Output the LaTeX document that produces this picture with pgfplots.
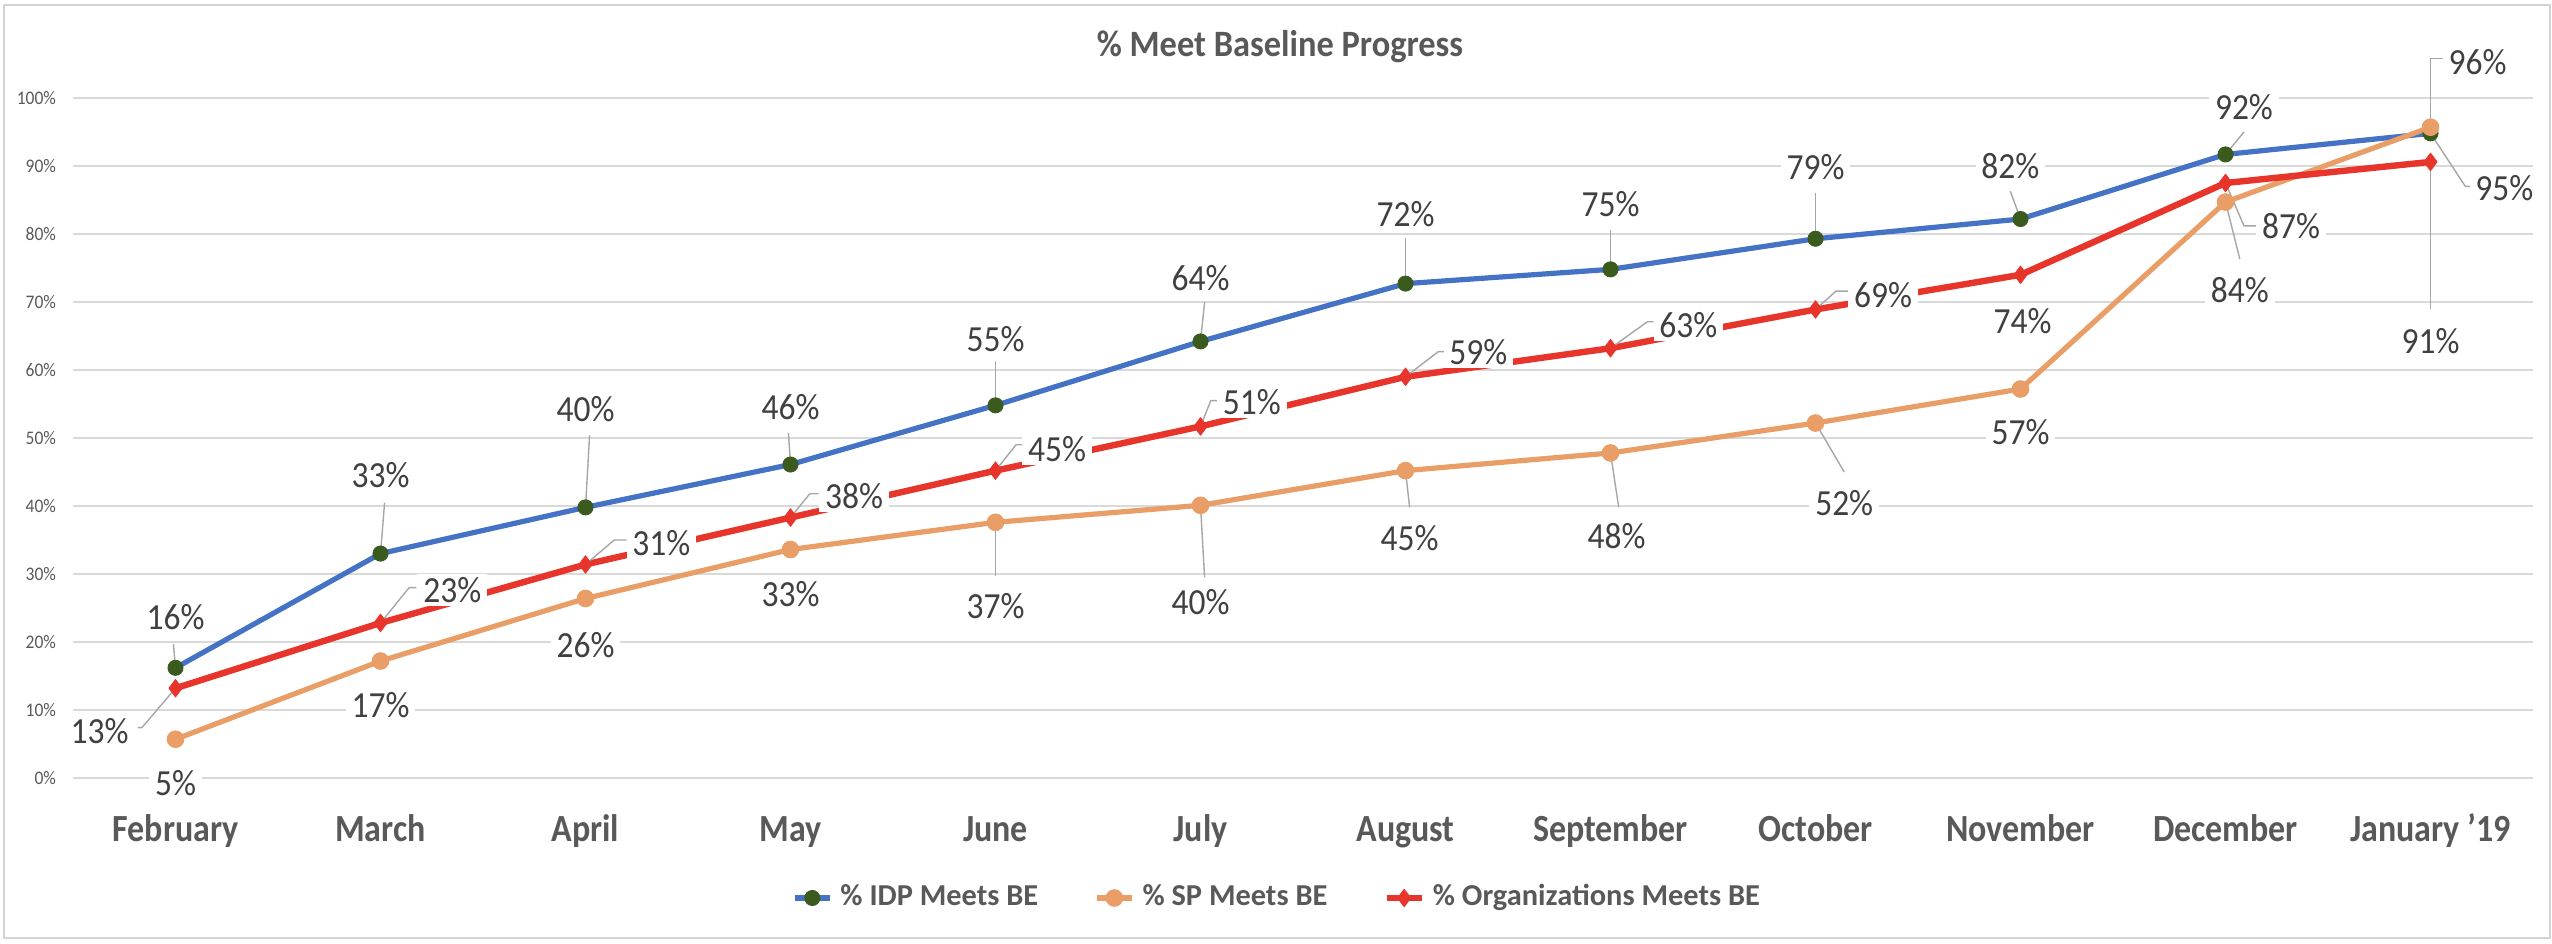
\documentclass[border=0pt]{standalone}
\usepackage{pgfplots}
\pgfplotsset{compat=1.18}
\usepackage{fontspec}
\setmainfont{Carlito}
\definecolor{idpblue}{HTML}{4472C4}
\definecolor{idpgreen}{HTML}{3A5A1E}
\definecolor{sporange}{HTML}{E89E66}
\definecolor{orgred}{HTML}{E8352B}
\definecolor{gridgray}{HTML}{D9D9D9}
\definecolor{txt}{HTML}{595959}
\definecolor{lbltxt}{HTML}{404040}
\definecolor{leader}{HTML}{A6A6A6}
\definecolor{framegray}{HTML}{D3D3D3}

\begin{document}
\begin{tikzpicture}[
  lbl/.style={font=\fontsize{9.2bp}{10bp}\selectfont, xscale=0.91, text=lbltxt, fill=white, inner xsep=1.6bp, inner ysep=0.8bp},
  ldr/.style={draw=leader, line width=0.35bp}]
\useasboundingbox (0,0) rectangle (638bp,236bp);
\draw[framegray, line width=0.5bp] (1bp,1.5bp) rectangle (637.5bp,234.75bp);
\node[font=\bfseries\fontsize{9.3bp}{10bp}\selectfont, xscale=0.925, text=txt] at (320bp,224.25bp) {\% Meet Baseline Progress};
\begin{axis}[
  at={(18.25bp,41.5bp)}, anchor=south west,
  scale only axis, width=615bp, height=170bp,
  xmin=-0.5, xmax=11.5, ymin=0, ymax=100,
  clip=false,
  axis line style={draw=none},
  major tick length=0pt,
  xtick={0,1,2,3,4,5,6,7,8,9,10,11},
  xticklabels={February,March,April,May,June,July,August,September,October,November,December,January '19},
  ytick={0,10,20,30,40,50,60,70,80,90,100},
  yticklabels={0\%,10\%,20\%,30\%,40\%,50\%,60\%,70\%,80\%,90\%,100\%},
  ymajorgrids, grid style={gridgray, line width=0.6bp},
  xticklabel style={font=\bfseries\fontsize{9.6bp}{10bp}\selectfont, xscale=0.885, text=txt, anchor=base, inner sep=0pt, yshift=-15.9bp},
  yticklabel style={font=\fontsize{4.8bp}{5bp}\selectfont, xscale=0.91, text=txt, anchor=east, inner sep=0pt, xshift=-4.5bp},
  legend columns=3,
  legend style={at={(0.49065,-0.17647)}, anchor=center, draw=none, fill=none,
    font=\bfseries\fontsize{7.6bp}{8bp}\selectfont, text=txt,
    /tikz/every even column/.append style={column sep=12bp},
    /tikz/every odd column/.append style={column sep=0bp}},
  legend image code/.code={\draw[mark repeat=2,mark phase=2] plot coordinates {(0bp,0bp) (4.4bp,0bp) (8.8bp,0bp)};},
]
\addplot[idpblue, line width=1.3bp, line join=round, mark=*, mark size=1.9bp,
  mark options={fill=idpgreen, draw=idpgreen, line width=0.2bp}]
  coordinates {(0,16.2) (1,33.0) (2,39.8) (3,46.1) (4,54.8) (5,64.2) (6,72.7) (7,74.8) (8,79.3) (9,82.2) (10,91.7) (11,94.8)};
\addlegendentry{\% IDP Meets BE}
\addplot[sporange, line width=1.3bp, line join=round, mark=*, mark size=2.1bp,
  mark options={fill=sporange, draw=sporange, line width=0.2bp}]
  coordinates {(0,5.7) (1,17.2) (2,26.4) (3,33.6) (4,37.6) (5,40.1) (6,45.2) (7,47.8) (8,52.2) (9,57.2) (10,84.7) (11,95.7)};
\addlegendentry{\% SP Meets BE}
\addplot[orgred, line width=1.6bp, line join=round, mark=diamond*, mark size=2.2bp,
  mark options={fill=orgred, draw=orgred, line width=0.2bp}]
  coordinates {(0,13.2) (1,22.8) (2,31.4) (3,38.3) (4,45.2) (5,51.7) (6,59.0) (7,63.2) (8,68.9) (9,74.0) (10,87.5) (11,90.6)};
\addlegendentry{\% Organizations Meets BE}

% leader lines
\draw[ldr] (axis cs:0,16.2) -- (axis cs:-0.01,19.7);
\draw[ldr] (axis cs:1,33.0) -- (axis cs:1.02,40.5);
\draw[ldr] (axis cs:2,39.8) -- (axis cs:2.02,50.4);
\draw[ldr] (axis cs:3,46.1) -- (axis cs:2.99,50.7);
\draw[ldr] (axis cs:4,54.8) -- (axis cs:4,61.3);
\draw[ldr] (axis cs:5,64.2) -- (axis cs:5.02,70);
\draw[ldr] (axis cs:6,72.7) -- (axis cs:6,79.4);
\draw[ldr] (axis cs:7,74.8) -- (axis cs:7,80.6);
\draw[ldr] (axis cs:8,79.3) -- (axis cs:8,86);
\draw[ldr] (axis cs:9,82.2) -- (axis cs:8.95,86.3);
\draw[ldr] (axis cs:10,91.7) -- (axis cs:10.09,95);
\draw[ldr] (axis cs:11,94.8) -- (axis cs:11.17,87) -- (axis cs:11.2,87);
\draw[ldr] (axis cs:4,37.6) -- (axis cs:4,29.7);
\draw[ldr] (axis cs:5,40.1) -- (axis cs:5.02,29.5);
\draw[ldr] (axis cs:6,45.2) -- (axis cs:6.02,39.8);
\draw[ldr] (axis cs:7,47.8) -- (axis cs:7.04,39.8);
\draw[ldr] (axis cs:8,52.2) -- (axis cs:8.14,45);
\draw[ldr] (axis cs:10,84.7) -- (axis cs:10.07,76.3);
\draw[ldr] (axis cs:11,95.7) -- (axis cs:11,105.8) -- (axis cs:11.07,105.8);
\draw[ldr] (axis cs:0,13.2) -- (axis cs:-0.164,7.4) -- (axis cs:-0.185,7.4);
\draw[ldr] (axis cs:1,22.8) -- (axis cs:1.14,28) -- (axis cs:1.175,28);
\draw[ldr] (axis cs:2,31.4) -- (axis cs:2.14,35) -- (axis cs:2.2,35);
\draw[ldr] (axis cs:3,38.3) -- (axis cs:3.094,41.8) -- (axis cs:3.137,41.8);
\draw[ldr] (axis cs:4,45.2) -- (axis cs:4.1,49) -- (axis cs:4.13,49);
\draw[ldr] (axis cs:5,51.7) -- (axis cs:5.05,55.5) -- (axis cs:5.1,55.5);
\draw[ldr] (axis cs:6,59.0) -- (axis cs:6.16,62.7) -- (axis cs:6.19,62.7);
\draw[ldr] (axis cs:7,63.2) -- (axis cs:7.18,67.1) -- (axis cs:7.21,67.1);
\draw[ldr] (axis cs:8,68.9) -- (axis cs:8.1,71.6) -- (axis cs:8.16,71.6);
\draw[ldr] (axis cs:10,87.5) -- (axis cs:10.09,81.2) -- (axis cs:10.17,81.2);
\draw[ldr] (axis cs:11,90.6) -- (axis cs:11,69);

% IDP labels
\node[lbl] at (axis cs:0,23.6) {16\%};
\node[lbl] at (axis cs:1,44.5) {33\%};
\node[lbl] at (axis cs:2,54.2) {40\%};
\node[lbl] at (axis cs:3,54.6) {46\%};
\node[lbl] at (axis cs:4,64.6) {55\%};
\node[lbl] at (axis cs:5,73.5) {64\%};
\node[lbl] at (axis cs:6,82.9) {72\%};
\node[lbl] at (axis cs:7,84.4) {75\%};
\node[lbl] at (axis cs:8,89.9) {79\%};
\node[lbl] at (axis cs:8.95,90.0) {82\%};
\node[lbl] at (axis cs:10.09,98.7) {92\%};
\node[lbl] at (axis cs:11.36,86.7) {95\%};
% SP labels
\node[lbl] at (axis cs:0,-0.7) {5\%};
\node[lbl] at (axis cs:1,10.7) {17\%};
\node[lbl] at (axis cs:2,19.6) {26\%};
\node[lbl] at (axis cs:3,27.0) {33\%};
\node[lbl] at (axis cs:4,25.3) {37\%};
\node[lbl] at (axis cs:5,25.8) {40\%};
\node[lbl] at (axis cs:6.02,35.3) {45\%};
\node[lbl] at (axis cs:7.03,35.6) {48\%};
\node[lbl] at (axis cs:8.14,40.4) {52\%};
\node[lbl] at (axis cs:9,50.9) {57\%};
\node[lbl] at (axis cs:10.07,71.7) {84\%};
\node[lbl] at (axis cs:11.23,105.3) {96\%};
% Organization labels
\node[lbl] at (axis cs:-0.37,6.9) {13\%};
\node[lbl] at (axis cs:1.35,27.6) {23\%};
\node[lbl] at (axis cs:2.37,34.6) {31\%};
\node[lbl] at (axis cs:3.31,41.5) {38\%};
\node[lbl] at (axis cs:4.30,48.4) {45\%};
\node[lbl] at (axis cs:5.25,55.3) {51\%};
\node[lbl] at (axis cs:6.355,62.6) {59\%};
\node[lbl] at (axis cs:7.38,66.6) {63\%};
\node[lbl] at (axis cs:8.33,71.0) {69\%};
\node[lbl] at (axis cs:9.01,67.2) {74\%};
\node[lbl] at (axis cs:10.32,81.2) {87\%};
\node[lbl] at (axis cs:11,64.3) {91\%};
\end{axis}
\end{tikzpicture}
\end{document}
